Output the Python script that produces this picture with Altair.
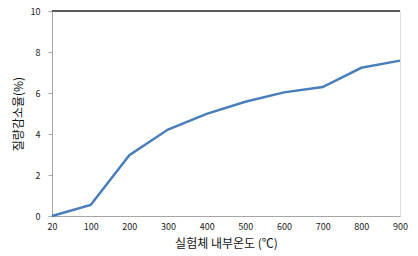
import altair as alt
import pandas as pd

temps = ["20", "100", "200", "300", "400", "500", "600", "700", "800", "900"]
loss = [0.0, 0.54, 2.97, 4.22, 4.98, 5.57, 6.03, 6.29, 7.23, 7.58]

df = pd.DataFrame({"temp": temps, "loss": loss})
FONT = "Noto Sans CJK KR"

x = alt.X("temp:O", sort=temps,
          scale=alt.Scale(type="point", padding=0),
          axis=alt.Axis(title="실험체 내부온도 (℃)", labelAngle=0, ticks=False,
                        domain=True, domainColor="#a6a6a6", labelPadding=6,
                        labelFontSize=9, labelColor="#222", titleFontSize=12,
                        titleFontWeight="normal", titleColor="#111", titlePadding=7,
                        labelFont=FONT, titleFont=FONT))
y = alt.Y("loss:Q", scale=alt.Scale(domain=[0, 10], nice=False),
          axis=alt.Axis(title="질량감소율(%)", values=[0, 2, 4, 6, 8, 10],
                        tickSize=4, tickColor="#a6a6a6", domainColor="#a6a6a6",
                        gridColor="#a6a6a6", labelPadding=8, labelFontSize=9,
                        labelColor="#222", titleFontSize=12, titleFontWeight="normal",
                        titleColor="#111", titlePadding=5, labelFont=FONT, titleFont=FONT))

line = alt.Chart(df).mark_line(color="#4a7ebb", strokeWidth=2.5).encode(x=x, y=y)
top = alt.Chart(df).mark_rule(color="#5a5a5a", strokeWidth=1).encode(y=alt.datum(10))

chart = alt.layer(top, line).properties(
    width=348, height=205,
    autosize=alt.AutoSizeParams(type="none"),
    padding={"left": 52, "top": 11, "right": 18, "bottom": 40},
).configure_view(stroke="#a6a6a6").configure(background="white")

chart.save("out.html", embed_options={"renderer": "svg", "actions": False})
